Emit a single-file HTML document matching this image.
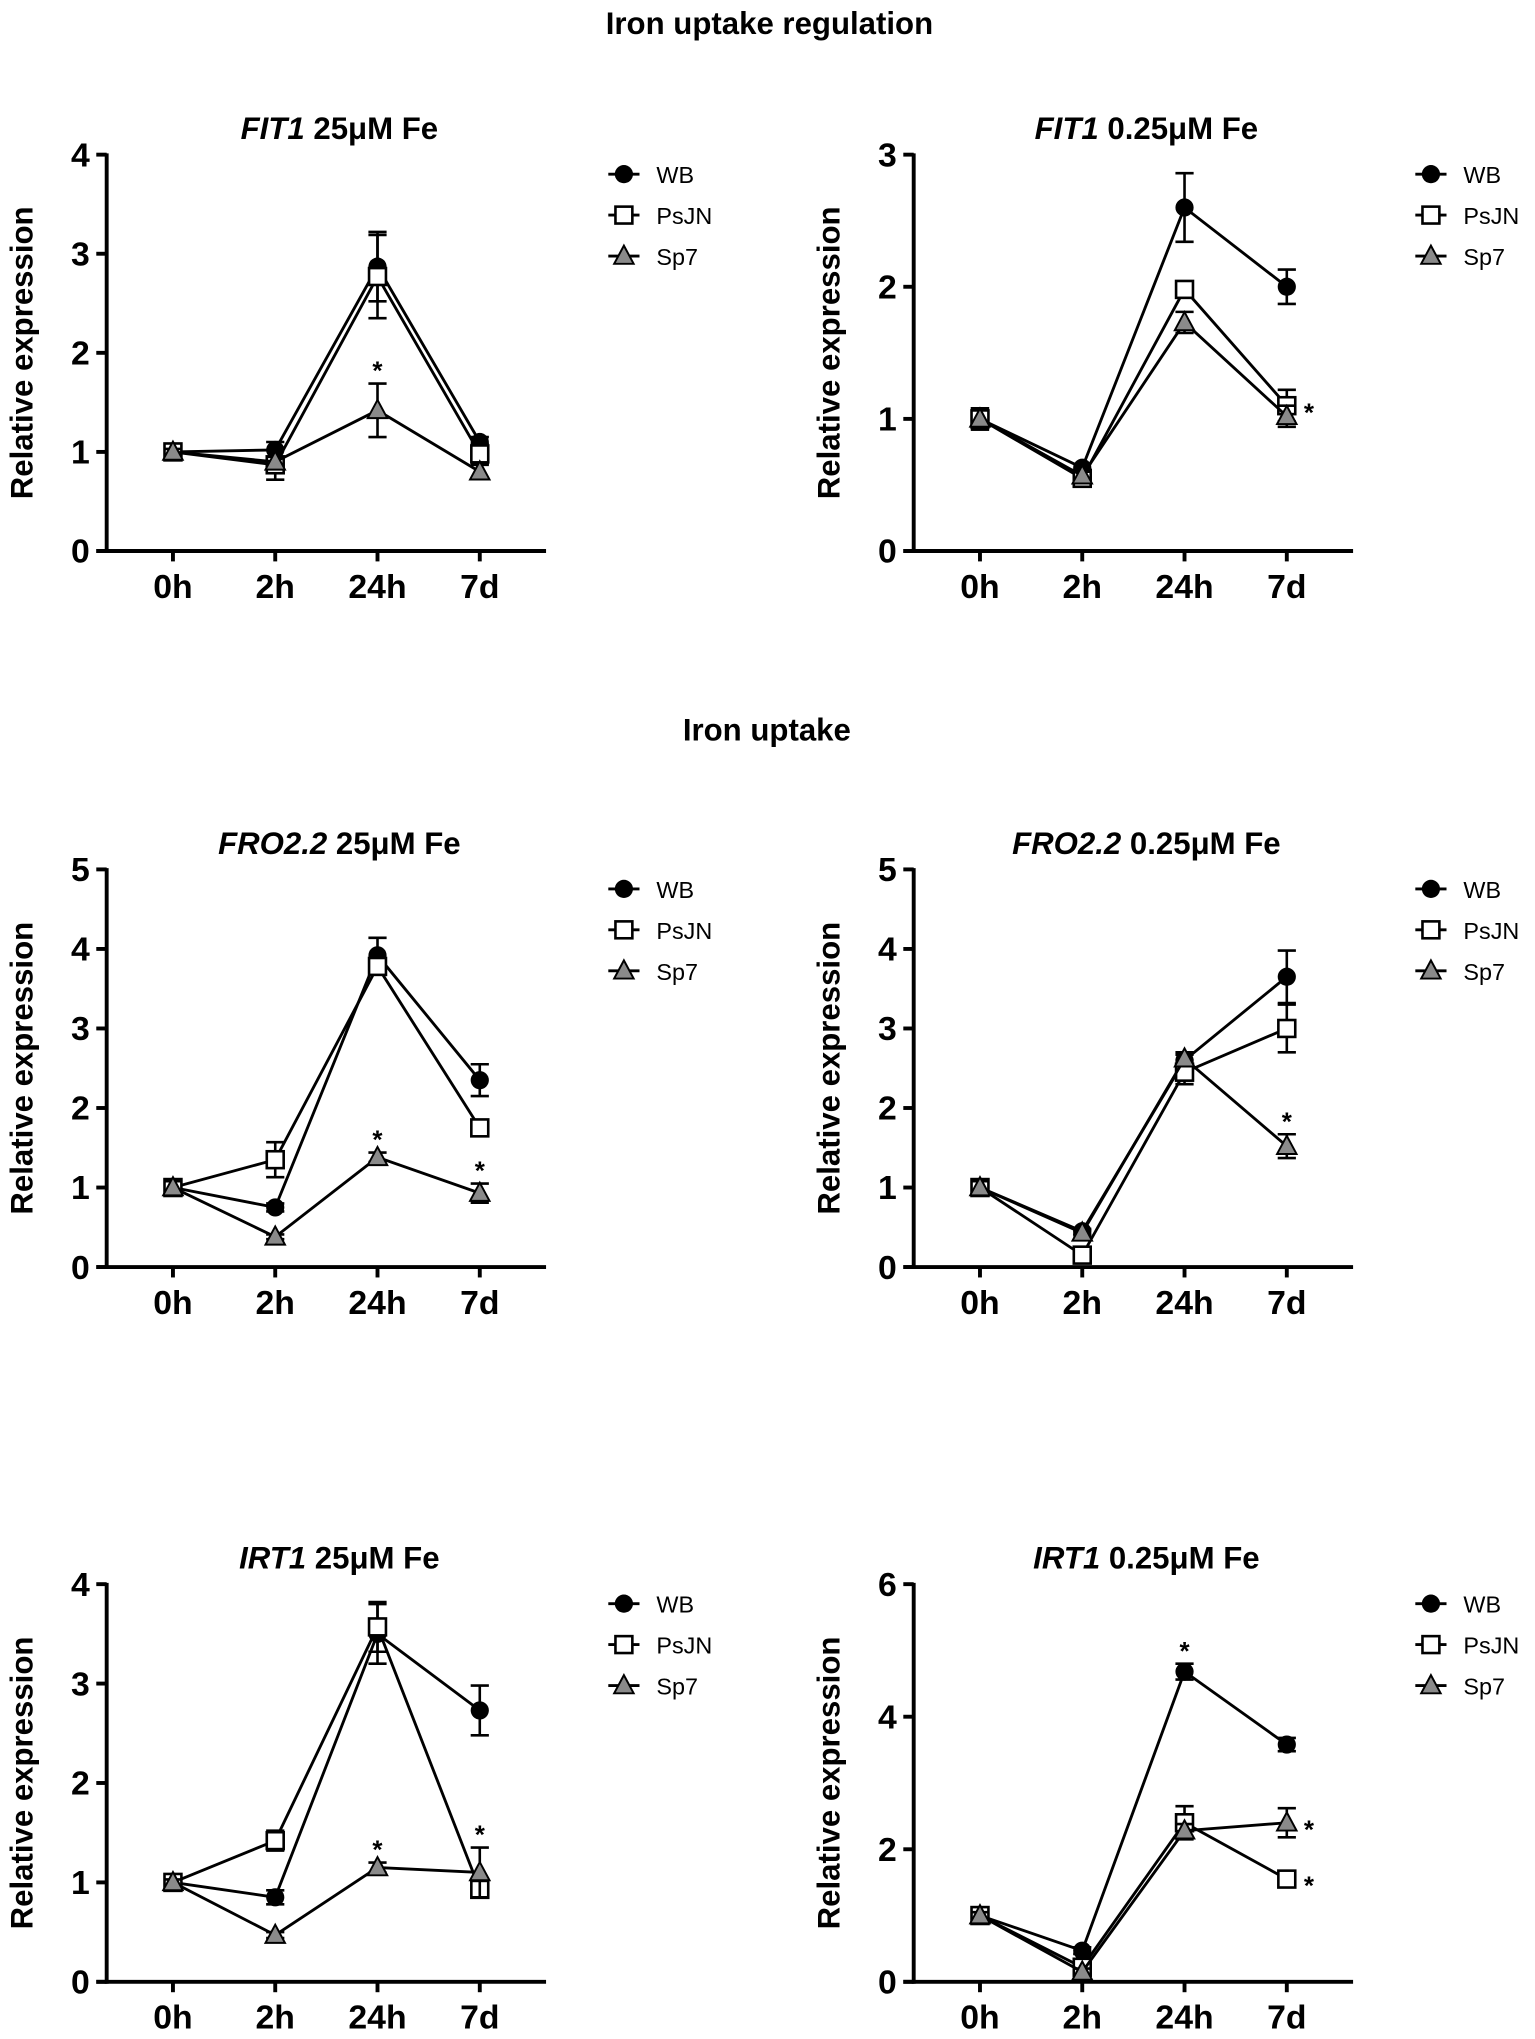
<!DOCTYPE html>
<html><head><meta charset="utf-8"><style>
html,body{margin:0;padding:0;background:#fff;}
svg{display:block;}
text{font-family:"Liberation Sans",sans-serif;}
.tk{font-family:"Liberation Sans Narrow","Liberation Sans",sans-serif;font-weight:bold;font-size:26px;}
</style></head><body>
<svg id="fig" width="1535" height="2039" viewBox="0 0 1181 1569" xmlns="http://www.w3.org/2000/svg">
<text x="592" y="26" text-anchor="middle" font-weight="bold" font-size="24">Iron uptake regulation</text>
<text x="590" y="570" text-anchor="middle" font-weight="bold" font-size="24">Iron uptake</text>
</svg>
<script>
const categories = ["0h","2h","24h","7d"];
const seriesNames = ["WB","PsJN","Sp7"];
// FIT1 25uM
const fit25WB=[1.0,1.02,2.87,1.1], fit25WBerr=[0.05,0.08,0.35,0.05];
const fit25Ps=[1.0,0.87,2.77,0.98], fit25Pserr=[0.05,0.15,0.42,0.1];
const fit25Sp=[1.0,0.9,1.42,0.8], fit25Sperr=[0.03,0.05,0.27,0.07];
// FIT1 0.25uM
const fit025WB=[1.0,0.63,2.6,2.0], fit025WBerr=[0.08,0.03,0.26,0.13];
const fit025Ps=[1.0,0.55,1.98,1.1], fit025Pserr=[0.08,0.03,0.05,0.12];
const fit025Sp=[1.0,0.57,1.73,1.02], fit025Sperr=[0.08,0.03,0.08,0.08];
// FRO2.2 25uM
const fro25WB=[1.0,0.75,3.92,2.35], fro25WBerr=[0.08,0.05,0.22,0.2];
const fro25Ps=[1.0,1.35,3.78,1.75], fro25Pserr=[0.08,0.22,0.1,0.05];
const fro25Sp=[1.0,0.38,1.38,0.93], fro25Sperr=[0.08,0.03,0.06,0.12];
// FRO2.2 0.25uM
const fro025WB=[1.0,0.45,2.6,3.65], fro025WBerr=[0.08,0.03,0.1,0.33];
const fro025Ps=[1.0,0.15,2.45,3.0], fro025Pserr=[0.08,0.03,0.15,0.3];
const fro025Sp=[1.0,0.43,2.62,1.52], fro025Sperr=[0.08,0.03,0.05,0.15];
// IRT1 25uM
const irt25WB=[1.0,0.85,3.5,2.73], irt25WBerr=[0.03,0.07,0.3,0.25];
const irt25Ps=[1.0,1.42,3.57,0.93], irt25Pserr=[0.03,0.1,0.25,0.08];
const irt25Sp=[1.0,0.47,1.15,1.1], irt25Sperr=[0.03,0.03,0.05,0.25];
// IRT1 0.25uM
const irt025WB=[1.0,0.47,4.68,3.58], irt025WBerr=[0.05,0.05,0.12,0.1];
const irt025Ps=[1.0,0.22,2.4,1.55], irt025Pserr=[0.05,0.05,0.25,0.05];
const irt025Sp=[1.0,0.15,2.28,2.4], irt025Sperr=[0.05,0.05,0.1,0.22];
const ticks4=[0,1,2,3,4], ticks3=[0,1,2,3], ticks5=[0,1,2,3,4,5], ticks6=[0,2,4,6];

const NS="http://www.w3.org/2000/svg";
const svg=document.getElementById('fig');
function mk(tag,attrs,parent){const e=document.createElementNS(NS,tag);for(const k in attrs)e.setAttribute(k,attrs[k]);(parent||svg).appendChild(e);return e;}

const panels=[
 {gene:"FIT1",conc:" 25\u03bcM Fe",ax:82,top:119,bot:424,ymax:4,ticks:ticks4,data:[[fit25WB,fit25WBerr],[fit25Ps,fit25Pserr],[fit25Sp,fit25Sperr]],stars:[[2,2,"above"]],name:"fit1-25"},
 {gene:"FIT1",conc:" 0.25\u03bcM Fe",ax:703,top:119,bot:424,ymax:3,ticks:ticks3,data:[[fit025WB,fit025WBerr],[fit025Ps,fit025Pserr],[fit025Sp,fit025Sperr]],stars:[[1,3,"right"]],name:"fit1-025"},
 {gene:"FRO2.2",conc:" 25\u03bcM Fe",ax:82,top:669,bot:975,ymax:5,ticks:ticks5,data:[[fro25WB,fro25WBerr],[fro25Ps,fro25Pserr],[fro25Sp,fro25Sperr]],stars:[[2,2,"above"],[2,3,"above"]],name:"fro22-25"},
 {gene:"FRO2.2",conc:" 0.25\u03bcM Fe",ax:703,top:669,bot:975,ymax:5,ticks:ticks5,data:[[fro025WB,fro025WBerr],[fro025Ps,fro025Pserr],[fro025Sp,fro025Sperr]],stars:[[2,3,"above"]],name:"fro22-025"},
 {gene:"IRT1",conc:" 25\u03bcM Fe",ax:82,top:1219,bot:1525,ymax:4,ticks:ticks4,data:[[irt25WB,irt25WBerr],[irt25Ps,irt25Pserr],[irt25Sp,irt25Sperr]],stars:[[2,2,"above"],[2,3,"above"]],name:"irt1-25"},
 {gene:"IRT1",conc:" 0.25\u03bcM Fe",ax:703,top:1219,bot:1525,ymax:6,ticks:ticks6,data:[[irt025WB,irt025WBerr],[irt025Ps,irt025Pserr],[irt025Sp,irt025Sperr]],stars:[[0,2,"above"],[1,3,"right"],[2,3,"right"]],name:"irt1-025"}
];

function marker(g,s,x,y){
  let m;
  if(s===0) m=mk('circle',{cx:x,cy:y,r:7,fill:'#000'},g);
  else if(s===1) m=mk('rect',{x:x-6.5,y:y-6.5,width:13,height:13,fill:'#fff',stroke:'#000','stroke-width':2},g);
  else m=mk('polygon',{points:`${x},${y-8} ${x+7.5},${y+6} ${x-7.5},${y+6}`,fill:'#8a8a8a',stroke:'#000','stroke-width':1.5},g);
  return m;
}

panels.forEach(p=>{
  const g=mk('g',{});
  
  
  const step=78.7, x0=p.ax+51;
  const X=i=>x0+i*step;
  const Y=v=>p.bot-(v/p.ymax)*(p.bot-p.top);
  const axEnd=X(3)+51;
  const t=mk('text',{x:(p.ax+axEnd)/2+10,y:p.top-12,'text-anchor':'middle','font-weight':'bold','font-size':24},g);
  
  
  const ts=mk('tspan',{'font-style':'italic'},t); ts.textContent=p.gene;
  const ts2=mk('tspan',{},t); ts2.textContent=p.conc;
  const yl=mk('line',{x1:p.ax,y1:p.top-1,x2:p.ax,y2:p.bot+1.5,stroke:'#000','stroke-width':3},g);
  
  
  const xl=mk('line',{x1:p.ax-8,y1:p.bot,x2:axEnd,y2:p.bot,stroke:'#000','stroke-width':3},g);
  
  
  p.ticks.forEach(v=>{
    mk('line',{x1:p.ax-8,y1:Y(v),x2:p.ax,y2:Y(v),stroke:'#000','stroke-width':3},g);
    const tl=mk('text',{x:p.ax-13,y:Y(v)+9,'text-anchor':'end',class:'tk'},g);
    
    
    tl.textContent=v;
  });
  categories.forEach((c,i)=>{
    mk('line',{x1:X(i),y1:p.bot,x2:X(i),y2:p.bot+8,stroke:'#000','stroke-width':3},g);
    const tl=mk('text',{x:X(i),y:p.bot+36,'text-anchor':'middle',class:'tk'},g);
    
    
    tl.textContent=c;
  });
  const yt=mk('text',{x:0,y:0,'text-anchor':'middle','font-weight':'bold','font-size':24,transform:`translate(${p.ax-57},${(p.top+p.bot)/2}) rotate(-90)`},g);
  
  
  yt.textContent='Relative expression';
  p.data.forEach((d,s)=>{
    const [vals,errs]=d;
    const sg=mk('g',{},g);
    
    
    vals.forEach((v,i)=>{
      const e=errs[i], x=X(i);
      mk('line',{x1:x,y1:Y(v+e),x2:x,y2:Y(v-e),stroke:'#000','stroke-width':2},sg);
      mk('line',{x1:x-7,y1:Y(v+e),x2:x+7,y2:Y(v+e),stroke:'#000','stroke-width':2},sg);
      mk('line',{x1:x-7,y1:Y(v-e),x2:x+7,y2:Y(v-e),stroke:'#000','stroke-width':2},sg);
    });
    mk('polyline',{points:vals.map((v,i)=>X(i)+','+Y(v)).join(' '),fill:'none',stroke:'#000','stroke-width':2.2},sg);
    vals.forEach((v,i)=>{
      const m=marker(sg,s,X(i),Y(v));
      
      
    });
  });
  p.stars.forEach(([s,i,pos])=>{
    const v=p.data[s][0][i], e=p.data[s][1][i];
    let sx,sy;
    if(pos==='above'){sx=X(i);sy=Y(v+e)-3;}else{sx=X(i)+17;sy=Y(v)+12;}
    const st=mk('text',{x:sx,y:sy,'text-anchor':'middle','font-weight':'bold','font-size':20},g);
    
    
    st.textContent='*';
  });
  const lx=p.ax+398;
  const ly=p.top+15;
  seriesNames.forEach((n,s)=>{
    const lg=mk('g',{},g);
    
    
    const y=ly+s*31.5;
    mk('line',{x1:lx-12,y1:y,x2:lx+12,y2:y,stroke:'#000','stroke-width':2.2},lg);
    marker(lg,s,lx,y);
    const tx=mk('text',{x:lx+25,y:y+7,'font-size':18},lg);
    tx.textContent=n;
  });
});
</script>
</body></html>
